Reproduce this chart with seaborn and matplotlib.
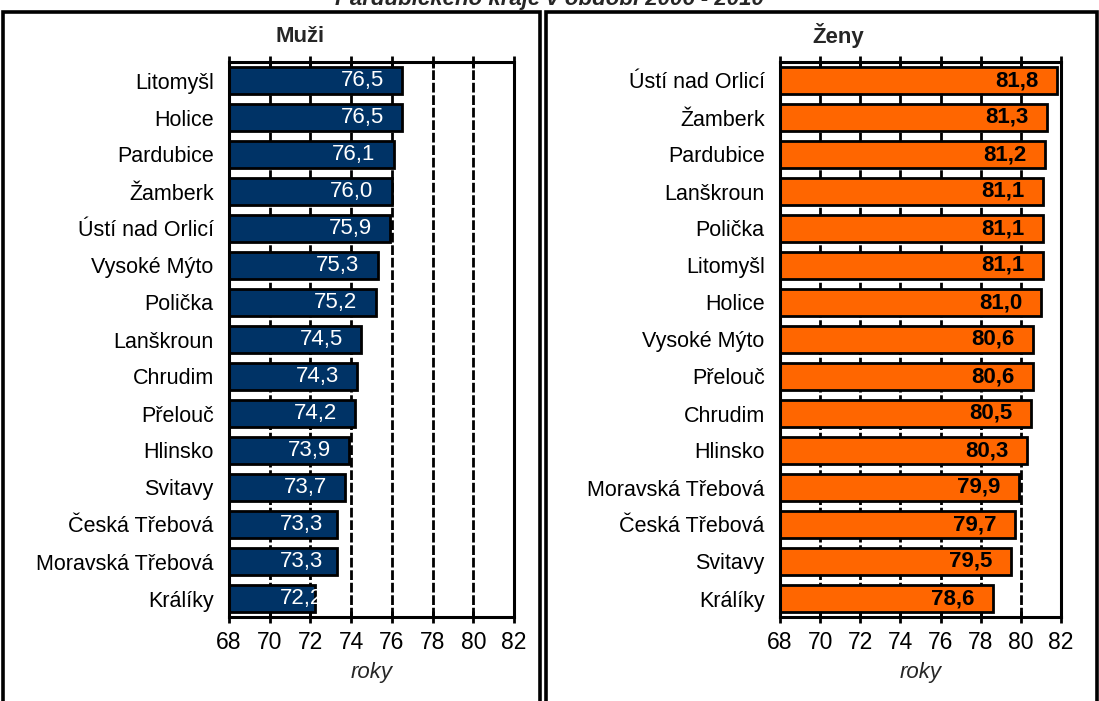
#!/usr/bin/env python3
"""Life expectancy by town, Pardubice region 2006-2010 (men vs women)."""

import matplotlib
matplotlib.use('Agg')
import matplotlib.pyplot as plt
from matplotlib.patches import Rectangle
import seaborn as sns

# Data
MEN_TOWNS = ['Litomyšl', 'Holice', 'Pardubice', 'Žamberk', 'Ústí nad Orlicí',
             'Vysoké Mýto', 'Polička', 'Lanškroun', 'Chrudim', 'Přelouč',
             'Hlinsko', 'Svitavy', 'Česká Třebová', 'Moravská Třebová', 'Králíky']
MEN_VALUES = [76.5, 76.5, 76.1, 76.0, 75.9, 75.3, 75.2, 74.5, 74.3, 74.2,
              73.9, 73.7, 73.3, 73.3, 72.2]

WOMEN_TOWNS = ['Ústí nad Orlicí', 'Žamberk', 'Pardubice', 'Lanškroun', 'Polička',
               'Litomyšl', 'Holice', 'Vysoké Mýto', 'Přelouč', 'Chrudim',
               'Hlinsko', 'Moravská Třebová', 'Česká Třebová', 'Svitavy', 'Králíky']
WOMEN_VALUES = [81.8, 81.3, 81.2, 81.1, 81.1, 81.1, 81.0, 80.6, 80.6, 80.5,
                80.3, 79.9, 79.7, 79.5, 78.6]

X_TICKS = [68, 70, 72, 74, 76, 78, 80, 82]

TITLE = 'Pardubického kraje v období 2006 - 2010'

sns.set_theme(style='white')
plt.rcParams['font.family'] = ['Liberation Sans', 'DejaVu Sans']

W, H = 1099, 701
fig = plt.figure(figsize=(W / 100, H / 100), dpi=100)


def draw_panel(rect, towns, values, color, label_color, bold):
    ax = fig.add_axes(rect)
    ax.set_axisbelow(True)
    sns.barplot(x=values, y=towns, ax=ax, color=color, orient='h',
                edgecolor='black', linewidth=2, width=0.72, saturation=1)
    ax.set_xlim(68, 82)
    ax.set_xticks(X_TICKS)
    ax.xaxis.grid(True, color='black', linestyle=(0, (3.5, 1)), linewidth=2)
    ax.yaxis.grid(False)
    for sp in ax.spines.values():
        sp.set_visible(True)
        sp.set_color('black')
        sp.set_linewidth(2.2)
    ax.tick_params(axis='x', direction='inout', length=8, width=2,
                   top=True, bottom=True, labelsize=16.5, pad=6, colors='black')
    ax.tick_params(axis='y', length=0, labelsize=15.5, pad=11, colors='black')
    ax.set_xlabel('roky', fontsize=16, style='italic', labelpad=6)
    ax.set_ylabel('')

    for i, v in enumerate(values):
        x = max(v - 0.9, 72.6)
        ax.text(x, i, f'{v:.1f}'.replace('.', ','), ha='right', va='center',
                fontsize=16, color=label_color,
                fontweight='bold' if bold else 'normal')
    return ax


draw_panel([229 / W, 1 - 617 / H, 285 / W, 555 / H],
           MEN_TOWNS, MEN_VALUES, '#003366', 'white', False)
draw_panel([780 / W, 1 - 617 / H, 281 / W, 555 / H],
           WOMEN_TOWNS, WOMEN_VALUES, '#FF6600', 'black', True)

# panel frames
for x0, x1 in [(3, 540), (546, 1097)]:
    fig.patches.append(Rectangle((x0 / W, -0.02), (x1 - x0) / W, 1.02 - 12 / H,
                                 transform=fig.transFigure, fill=False,
                                 edgecolor='black', linewidth=2.6))

fig.text(300 / W, 1 - 36 / H, 'Muži', ha='center', va='center',
         fontsize=16, fontweight='bold')
fig.text(838 / W, 1 - 36 / H, 'Ženy', ha='center', va='center',
         fontsize=16, fontweight='bold')

# title, partly cut off by the top edge as in the source
fig.text(0.5, 1 - 5 / H, TITLE, ha='center', va='baseline',
         fontsize=16, fontweight='bold', style='italic')

plt.savefig('out.png', dpi=100)
plt.close()
